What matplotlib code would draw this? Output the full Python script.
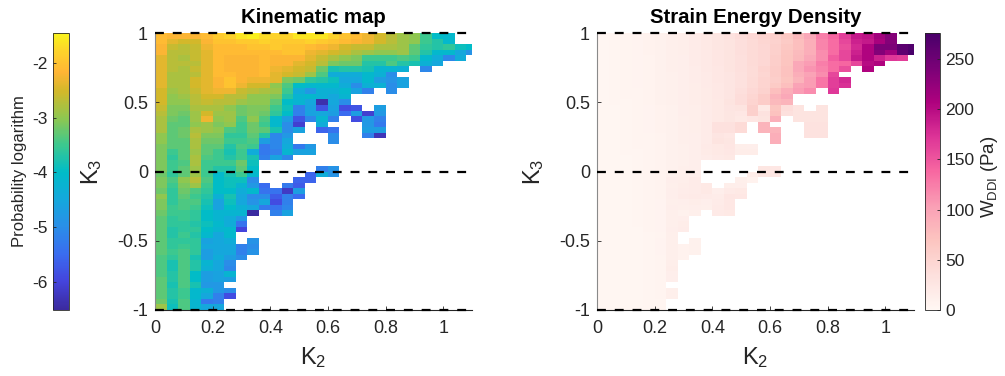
#!/usr/bin/env python3
"""Kinematic map and strain energy density over K2 / K3."""

from __future__ import annotations

import numpy as np
import matplotlib
matplotlib.use("Agg")
import matplotlib.pyplot as plt
from matplotlib.colors import LinearSegmentedColormap

plt.rcParams["font.family"] = ["Liberation Sans", "DejaVu Sans"]
plt.rcParams["mathtext.default"] = "regular"
plt.rcParams["axes.unicode_minus"] = False

n = float("nan")

# one row per K3 bin, top (K3 = 1) to bottom, one value per K2 bin from K2 = 0
LOG_PROB = [
    [-2.1,-2.2,-2.2,-2.2,-2.1,-1.9,-1.8,-1.6,-1.5,-1.7,-1.8,-1.8,-1.6,-1.6,-1.6,-1.8,-2.0,-2.1,-2.3,-2.5,-2.7,-2.9,-3.0,-3.5,-4.0,-4.1],
    [-2.1,-2.4,-2.5,-2.5,-2.2,-2.0,-2.0,-1.9,-1.9,-1.8,-1.9,-1.9,-1.9,-1.8,-1.9,-2.0,-2.1,-2.2,-2.3,-2.5,-2.7,-2.9,-3.0,-3.5,-3.7,-4.1],
    [-2.2,-2.6,-2.7,-2.6,-2.3,-2.1,-2.1,-2.1,-2.0,-2.0,-1.9,-2.0,-2.0,-2.1,-2.2,-2.3,-2.5,-2.6,-2.6,-2.8,-2.8,-2.9,-3.3,-3.6,-3.7,-3.6,-3.9,-4.0],
    [-2.2,-2.7,-2.7,-2.6,-2.4,-2.1,-2.1,-2.1,-2.1,-2.1,-2.1,-2.0,-2.0,-2.3,-2.4,-2.5,-2.6,-2.8,-2.9,-3.0,-3.0,-2.9,-3.3,-3.7,-4.1,-4.1,-4.5,-4.9],
    [-2.4,-2.7,-2.8,-2.6,-2.4,-2.1,-2.2,-2.2,-2.2,-2.1,-2.2,-2.2,-2.2,-2.4,-2.6,-2.8,-3.0,-3.1,-3.5,-3.5,-3.5,-3.4,-3.5,-4.1,-4.4,-5.1,-4.4],
    [-2.4,-2.7,-2.7,-2.7,-2.4,-2.1,-2.2,-2.2,-2.2,-2.1,-2.2,-2.2,-2.4,-2.5,-2.7,-3.1,-3.2,-3.2,-3.7,-3.7,-3.4,-3.7,-3.8,-4.3,-4.5],
    [-2.4,-2.7,-2.8,-2.6,-2.4,-2.1,-2.2,-2.2,-2.2,-2.1,-2.3,-2.4,-2.5,-2.6,-3.2,-3.8,-3.7,-3.7,-3.8,-4.2,-4.2,-4.3,n,-5.1],
    [-2.4,-2.8,-2.8,-2.7,-2.4,-2.1,-2.1,-2.2,-2.2,-2.1,-2.4,-2.5,-2.6,-2.9,-3.4,-4.4,-4.4,-4.4,-4.1,-4.3,-5.0],
    [-2.4,-2.8,-2.8,-2.5,-2.4,-2.2,-2.0,-2.2,-2.3,-2.3,-2.4,-3.1,-3.2,-3.6,-3.7,-3.9,-4.5,-4.5,-4.1,-4.7,-4.9,-4.6],
    [-2.4,-2.8,-2.8,-2.5,-2.4,-2.2,-2.0,-2.3,-2.5,-2.5,-3.0,-3.4,-4.0,-4.1,-4.1,-4.1,-4.4,-5.0,-4.3,-4.3,-5.0,-4.6],
    [-2.5,-2.9,-2.8,-2.6,-2.4,-2.3,-2.3,-2.6,-2.7,-2.8,-2.9,-3.5,-4.4,-4.8,-4.3,-4.3,-4.1,-4.6,-5.2,n,-5.0],
    [-2.5,-3.0,-2.9,-2.7,-2.5,-2.5,-2.7,-2.7,-3.0,-3.0,-3.1,-3.7,-4.2,-4.1,-4.3,-4.5,-4.2],
    [-2.5,-3.0,-3.0,-2.7,-2.6,-2.7,-2.7,-2.9,-3.0,-3.0,-3.3,-4.0,-4.2,-4.5,-6.4,-4.5,-5.0],
    [-2.6,-3.1,-3.1,-2.8,-2.8,-2.8,-3.0,-3.2,-3.1,-3.1,-3.5,-3.9,-5.2,-4.6,-5.8,-4.6,-5.9,-5.8,n,-4.7],
    [-2.7,-3.1,-3.2,-2.9,-2.5,-2.9,-2.9,-3.2,-3.1,-3.2,-3.6,-4.0,-5.2,-4.6,-4.5,-4.7,-5.5,-4.7,-6.1,-4.8],
    [-2.8,-3.2,-3.3,-2.9,-2.3,-3.0,-2.9,-3.4,-3.0,-3.4,-4.1,-4.7,-5.8,-5.1,-4.2,-5.2,n,-5.9,-4.8,-5.2],
    [-2.8,-3.3,-3.3,-3.0,-2.9,-3.1,-3.0,-3.5,-3.2,-3.5,-4.1,-5.0,-6.1,n,-4.4,n,n,n,-4.8,-5.3],
    [-2.8,-3.3,-3.2,-2.8,-2.9,-3.0,-3.4,-3.5,-3.2,-3.3,-3.8,-5.0,-4.6,n,-5.6,-5.4,n,n,-4.7,-4.7],
    [-3.0,-3.3,-3.2,-2.7,-3.1,-3.1,-3.6,-3.6,-3.3,-3.7,-5.1,-4.8,n,n,n,-5.0,n,n,-5.2,-6.3],
    [-3.0,-3.3,-3.3,-2.8,-3.2,-3.2,-3.5,-3.5,-3.4,-4.7,-5.1,-4.5,n,n,n,-5.0],
    [-3.1,-3.3,-3.3,-2.8,-3.3,-3.3,-3.7,-3.4,-3.5,-5.3,-5.1,-4.4,-5.3,-4.8],
    [-3.1,-3.5,-3.3,-2.9,-3.3,-3.5,-3.8,-3.5,-4.4,-5.3,-5.2,-4.2,-4.6,-4.6],
    [-3.1,-3.6,-3.3,-2.8,-3.4,-3.5,-3.7,-3.5,-3.8,-5.2,-4.6,-5.1],
    [-3.1,-3.5,-3.4,-2.8,-3.5,-3.5,-3.5,-3.2,-3.9],
    [-3.1,-3.5,-3.3,-2.9,-3.5,-3.7,-3.7,-3.3,-4.0,n,n,n,n,n,-5.2,-4.9],
    [-3.2,-3.6,-3.3,-2.9,-3.5,-4.1,-3.8,-3.5,-4.1,n,n,n,n,-5.6,-4.4,-4.9],
    [-3.1,-3.4,-3.0,-2.7,-3.4,-4.0,-3.9,-3.9,-5.0,n,n,n,-5.6,-5.6],
    [-3.1,-3.5,-3.1,-2.9,-3.5,-4.0,-3.9,-4.2,-4.8,-5.5,n,-5.3,-5.7],
    [-3.2,-3.6,-3.2,-3.4,-3.6,-4.0,-4.0,-4.4,-4.1,-5.4,-5.4,-6.2,-4.7],
    [-3.0,-3.6,-3.3,-3.5,-3.7,-4.3,-3.8,-4.5,-5.0,-5.0,-5.7,-5.2,-5.5],
    [-3.1,-3.6,-3.4,-3.4,-3.8,-4.6,-3.9,-4.5,-4.9,-4.5,-5.9,-5.2],
    [-3.1,-3.5,-3.4,-3.5,-3.9,-4.6,-4.0,-4.3,-4.5,-5.3,-5.4,-5.1],
    [-3.2,-3.5,-3.5,-3.6,-4.0,-4.2,-4.2,-4.2,-6.5,n,-5.2,-4.6],
    [-3.3,-3.6,-3.5,-3.6,-4.0,-4.2,-4.4,-4.8],
    [-3.3,-3.6,-3.6,-3.7,-3.9,-4.1,-4.4,-5.4],
    [-3.3,-3.7,-3.6,-3.6,-4.0,-4.2,-4.1,-6.0],
    [-3.3,-3.7,-3.5,-3.7,-4.1,-4.5,-4.1],
    [-3.3,-3.6,-3.6,-3.6,-4.6,-4.5,-4.4,n,-4.9],
    [-3.3,-3.6,-3.5,-3.6,-4.5,-4.5,-4.5,-5.2,-5.0],
    [-3.3,-3.5,-3.4,-3.6,-4.7,-4.5,-4.5,-5.2,-4.9],
    [-3.4,-3.6,-3.4,-3.8,-4.7,-4.4,-4.7,-5.0],
    [-3.4,-3.8,-3.4,-3.7,-4.2,-4.5,-5.0],
    [-3.4,-3.8,-3.4,-3.7,-4.3,-4.5,-5.1],
    [-3.4,-3.7,-3.4,-4.0,-4.7,-4.6,-4.2],
    [-3.3,-3.7,-3.4,-4.0,-4.7,-4.6,-4.7],
    [-3.3,-3.8,-3.4,-3.8,-4.8,-4.8],
    [-3.3,-3.7,-3.5,-4.1,-4.3,-4.8,-5.0],
    [-3.3,-3.7,-3.5,-4.1,-4.5,-5.2,-5.9],
    [-3.2,-3.8,-3.4,-4.2,-5.3,-5.2],
    [-2.9,-3.9,-3.4,-4.2,-4.5,-4.5],
]

W_DDI = [
    [3,4,5,6,8,10,12,15,18,22,26,32,38,45,50,55,65,80,95,125,140,165,190,195,215,235],
    [3,4,5,6,8,10,12,15,18,22,26,30,36,42,48,52,62,75,90,120,135,160,185,190,210,235],
    [3,4,5,6,8,10,12,15,18,22,26,30,36,42,46,55,65,75,90,120,135,155,180,205,240,240,262,270],
    [3,4,5,6,8,10,12,15,18,21,25,30,36,42,46,55,68,78,90,115,135,160,185,205,235,215,260,275],
    [3,4,5,6,7,10,12,14,18,21,25,30,35,42,46,58,70,80,95,115,145,160,190,205,185,170,165],
    [3,4,5,6,7,10,12,14,18,21,25,30,35,42,46,58,70,95,105,125,135,140,160,200,205],
    [3,4,5,6,7,9,12,14,17,21,24,30,35,40,50,60,72,95,110,120,135,155,n,205],
    [3,4,5,6,7,9,11,14,17,20,24,28,34,40,48,60,72,90,100,115,160],
    [3,4,5,6,7,9,11,14,17,20,24,28,34,42,50,58,70,85,105,130,165,180],
    [3,4,5,6,7,9,11,14,16,20,23,28,34,42,50,62,75,100,105,130,165,175],
    [3,4,5,5,7,9,11,13,16,19,23,28,36,45,52,75,90,105,115,n,170],
    [3,4,5,5,7,9,11,13,16,19,23,28,38,48,60,85,95],
    [3,4,4,5,7,9,11,13,16,19,22,30,38,50,60,80,85],
    [3,3,4,5,6,8,10,13,15,18,22,27,30,55,22,68,38,30,n,30],
    [3,3,4,5,6,8,10,13,15,18,22,26,24,55,32,72,35,30,30,30],
    [3,3,4,5,6,8,10,12,15,18,22,26,22,25,30,88,n,30,30,30],
    [3,3,4,5,6,8,10,12,15,18,33,34,42,n,85,n,n,n,32,32],
    [3,3,4,5,6,8,10,12,15,18,33,33,42,n,85,85,n,n,32,32],
    [3,3,4,5,5,7,9,12,14,18,28,24,n,n,n,90,n,n,32,32],
    [3,3,4,5,5,7,9,12,14,18,30,26,n,n,n,90],
    [3,3,4,5,5,7,9,11,14,20,22,25,15,14],
    [3,3,4,4,5,7,9,11,14,19,22,24,16,16],
    [3,3,3,4,5,7,9,11,13,17,20,22],
    [3,3,3,4,5,7,9,11,13],
    [3,3,3,4,5,7,9,12,13,n,n,n,n,n,26,24],
    [3,3,3,4,5,7,9,12,14,n,n,n,n,16,26,24],
    [3,3,3,4,5,7,13,15,18,n,n,n,12,8],
    [3,3,3,4,5,7,12,16,18,22,n,15,14],
    [3,3,3,4,5,7,13,17,18,22,14,20,22],
    [3,3,3,4,5,7,14,18,20,18,17,25,24],
    [3,3,3,4,5,6,12,14,16,14,18,24],
    [3,3,3,4,5,6,14,12,13,12,20,24],
    [3,3,3,4,5,6,12,10,12,n,20,22],
    [3,3,3,4,5,6,12,14],
    [3,3,3,4,5,6,12,16],
    [3,3,3,3,5,6,13,17],
    [3,3,3,3,4,5,12],
    [3,3,3,3,4,6,12,n,10],
    [3,3,3,3,4,6,12,8,10],
    [3,3,3,3,4,6,12,8,10],
    [3,3,3,3,4,5,12,8],
    [2,3,3,3,4,5,15],
    [2,3,3,3,4,5,16],
    [2,3,3,3,4,5,14],
    [2,3,3,3,4,5,13],
    [2,3,3,3,4,5],
    [2,3,3,3,4,5,12],
    [2,2,3,3,4,5,12],
    [2,2,3,3,4,4],
    [2,2,3,3,4,4],
]

K2_TICKS = [0, 0.2, 0.4, 0.6, 0.8, 1]
K2_TICK_LABELS = ["0", "0.2", "0.4", "0.6", "0.8", "1"]
K3_TICKS = [-1, -0.5, 0, 0.5, 1]
K3_TICK_LABELS = ["-1", "-0.5", "0", "0.5", "1"]
DASHED_K3 = [1, 0, -1]

BIN = 0.04
TEXT = "#262626"

W, H = 1005, 376

cmap_prob = LinearSegmentedColormap.from_list("prob", [
    (0.0, "#3b2a9e"), (0.103, "#4444dd"), (0.20, "#3a6cf0"), (0.30, "#2a8ee8"),
    (0.40, "#14a8dc"), (0.497, "#00bcc8"), (0.596, "#3cc88f"), (0.694, "#8fc750"),
    (0.79, "#d2b82a"), (0.86, "#ffb535"), (0.94, "#fdd52a"), (1.0, "#f9f41c"),
])


def box(x0: float, x1: float, y0: float, y1: float) -> list[float]:
    # pixel box (from the top left) to figure fractions
    return [x0 / W, 1 - y1 / H, (x1 - x0) / W, (y1 - y0) / H]


def to_grid(rows: list[list[float]]) -> np.ndarray:
    ncol = max(len(r) for r in rows)
    return np.array([r + [n] * (ncol - len(r)) for r in rows], dtype=float)


def draw_map(ax, rows, cmap, vmin, vmax, title):
    grid = to_grid(rows)
    x = np.arange(grid.shape[1] + 1) * BIN
    y = 1 - np.arange(grid.shape[0] + 1) * BIN
    mesh = ax.pcolormesh(x, y, grid, cmap=cmap, vmin=vmin, vmax=vmax,
                         shading="flat", linewidth=0, antialiased=False)
    for k3 in DASHED_K3:
        ax.plot([0, 1.1], [k3, k3], color="k", lw=1.6, dashes=(4, 4),
                clip_on=False, zorder=5)
    ax.set_xlim(0, 1.1)
    ax.set_ylim(-1, 1)
    ax.set_xticks(K2_TICKS, K2_TICK_LABELS)
    ax.set_yticks(K3_TICKS, K3_TICK_LABELS)
    ax.tick_params(direction="in", length=3, width=0.6, color=TEXT,
                   labelsize=13, labelcolor=TEXT)
    ax.tick_params(axis="x", pad=7)
    ax.tick_params(axis="y", pad=5)
    ax.spines["top"].set_visible(False)
    ax.spines["right"].set_visible(False)
    ax.spines["left"].set_color("#8a8a8a")
    ax.spines["bottom"].set_color(TEXT)
    ax.set_xlabel("K$_2$", fontsize=17, color=TEXT)
    ax.set_ylabel("K$_3$", fontsize=17, color=TEXT)
    ax.xaxis.set_label_coords(0.5, -0.125)
    ax.yaxis.set_label_coords(-0.16, 0.5)
    ax.set_title(title, fontsize=14.7, fontweight="bold", color="k", pad=7)
    return mesh


def main() -> None:
    fig = plt.figure(figsize=(W / 100, H / 100), dpi=100)

    ax1 = fig.add_axes(box(155, 472, 33, 310))
    ax2 = fig.add_axes(box(597, 914, 33, 310))
    cax1 = fig.add_axes(box(53, 69, 33, 310))
    cax2 = fig.add_axes(box(925, 940, 33, 310))

    m1 = draw_map(ax1, LOG_PROB, cmap_prob, -6.52, -1.45, "Kinematic map")
    m2 = draw_map(ax2, W_DDI, "RdPu", 0, 276, "Strain Energy Density")

    cb1 = fig.colorbar(m1, cax=cax1, ticks=[-6, -5, -4, -3, -2])
    cb1.ax.yaxis.set_ticks_position("left")
    cb1.ax.yaxis.set_label_position("left")
    cb1.ax.set_yticklabels(["-6", "-5", "-4", "-3", "-2"])
    cb1.set_label("Probability logarithm", fontsize=12, color=TEXT)
    cb1.ax.yaxis.set_label_coords(-1.65, 0.5)

    cb2 = fig.colorbar(m2, cax=cax2, ticks=[0, 50, 100, 150, 200, 250])
    cb2.set_label("W$_{DDI}$ (Pa)", fontsize=13.5, color=TEXT, y=0.48, labelpad=3)

    for cb in (cb1, cb2):
        cb.ax.tick_params(direction="in", length=2, width=0.6, color=TEXT,
                          labelsize=12.5, labelcolor=TEXT, pad=4)
        cb.outline.set_edgecolor(TEXT)
        cb.outline.set_linewidth(0.6)

    fig.savefig("out.png", dpi=100)


if __name__ == "__main__":
    main()
